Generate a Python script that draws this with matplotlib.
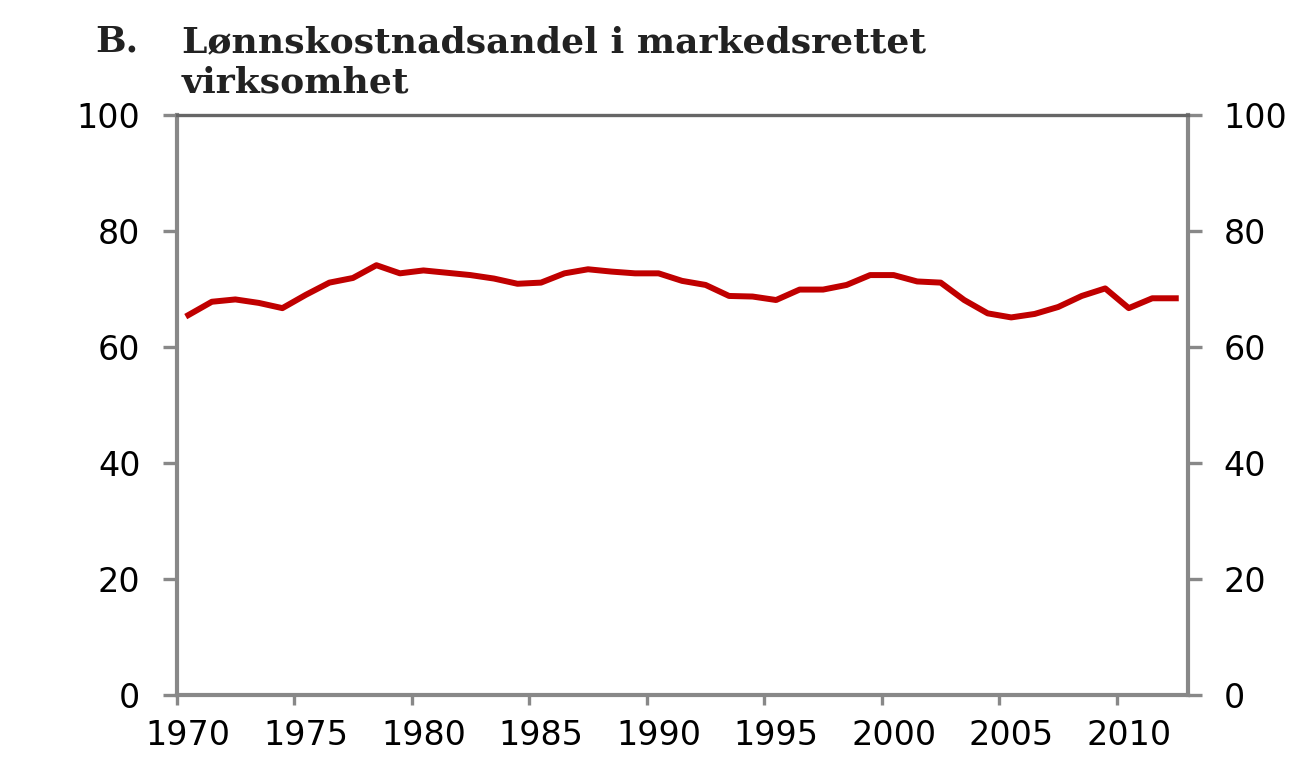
import numpy as np
import matplotlib
matplotlib.use("Agg")
import matplotlib.pyplot as plt

# Wage share in market-oriented business, percent
years = list(range(1970, 2013))
share = [65.5, 67.8, 68.2, 67.6, 66.7, 69.0, 71.1, 71.9, 74.1, 72.7,
         73.2, 72.8, 72.4, 71.8, 70.9, 71.1, 72.7, 73.4, 73.0, 72.7,
         72.7, 71.4, 70.7, 68.8, 68.7, 68.1, 69.9, 69.9, 70.7, 72.4,
         72.4, 71.3, 71.1, 68.1, 65.8, 65.1, 65.7, 66.9, 68.8, 70.1,
         66.7, 68.4, 68.4]
tick_years = [1970, 1975, 1980, 1985, 1990, 1995, 2000, 2005, 2010]
y_ticks = [0, 20, 40, 60, 80, 100]

fig = plt.figure(figsize=(13.09, 7.61), dpi=100)
ax = fig.add_axes([0.1349, 0.0867, 0.7723, 0.7622])

ax.plot(years, share, color="#C00000", lw=4.3, solid_joinstyle="round")

ax.set_xlim(1969.5, 2012.5)
ax.set_ylim(0, 100)

# tick marks sit on category borders, labels on category centres
ax.set_xticks([y - 0.5 for y in tick_years])
ax.set_xticklabels([])
ax.set_xticks(tick_years, minor=True)
ax.set_xticklabels([str(y) for y in tick_years], minor=True)
ax.tick_params(axis="x", which="major", direction="out", length=7, width=2.4, color="#888888")
ax.tick_params(axis="x", which="minor", length=0, pad=17, labelsize=24)

ax.set_yticks(y_ticks)
ax.set_yticklabels([str(v) for v in y_ticks])
ax.tick_params(axis="y", direction="out", length=10, width=2.4, color="#888888",
               labelsize=24, pad=16, right=True, labelright=True)

for s in ax.spines.values():
    s.set_color("#888888")
    s.set_linewidth(3.0)
ax.spines["top"].set_color("#666666")
ax.spines["top"].set_linewidth(2.4)

title_kw = dict(fontsize=26, family="DejaVu Serif", fontweight="bold", color="#222222")
fig.text(0.0726, 0.932, "B.", **title_kw)
fig.text(0.139, 0.932, "Lønnskostnadsandel i markedsrettet", **title_kw)
fig.text(0.139, 0.878, "virksomhet", **title_kw)

fig.savefig("out.png", dpi=100)
